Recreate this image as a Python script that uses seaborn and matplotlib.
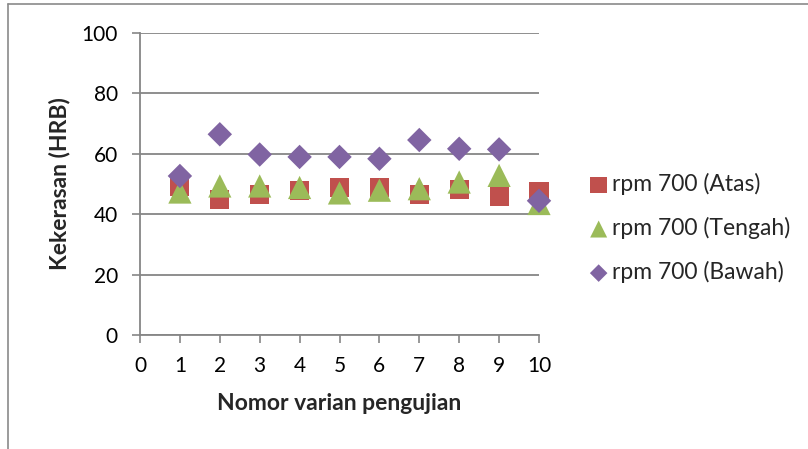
import matplotlib
matplotlib.use("Agg")
import matplotlib.pyplot as plt
from matplotlib.lines import Line2D
import seaborn as sns
import pandas as pd

# Hardness readings per test variant, 700 rpm, three measuring positions
varian = [1, 2, 3, 4, 5, 6, 7, 8, 9, 10]
atas = [49.0, 44.8, 46.4, 47.9, 48.7, 48.9, 46.4, 48.2, 46.0, 47.5]
tengah = [47.3, 49.3, 49.3, 48.8, 47.0, 47.9, 48.4, 50.6, 52.8, 43.5]
bawah = [52.6, 66.4, 59.7, 58.9, 58.9, 58.3, 64.5, 61.6, 61.4, 44.4]

series_names = ["rpm 700 (Atas)", "rpm 700 (Tengah)", "rpm 700 (Bawah)"]
series_values = [atas, tengah, bawah]
colors = ["#C0504D", "#9BBB59", "#8064A2"]
markers = ["s", "^", "D"]
sizes = [190, 280, 155]
legend_sizes = [140, 150, 80]

x_ticks = [0, 1, 2, 3, 4, 5, 6, 7, 8, 9, 10]
y_ticks = [0, 20, 40, 60, 80, 100]

sns.set_theme(style="white")
plt.rcParams["font.family"] = ["Lato", "DejaVu Sans"]

fig = plt.figure(figsize=(8.08, 4.49), dpi=100)
ax = fig.add_axes([140 / 808, 1 - 335 / 449, 399 / 808, (335 - 32.7) / 449])

grid_c = "#868686"
for name, vals, c, m, s in zip(series_names, series_values, colors, markers, sizes):
    df = pd.DataFrame({"varian": varian, "nilai": vals})
    sns.scatterplot(data=df, x="varian", y="nilai", ax=ax, color=c, marker=m,
                    s=s, edgecolor="none", linewidth=0, label=name, zorder=3,
                    clip_on=False)

ax.set_xlim(0, 10)
ax.set_ylim(0, 100)
ax.set_xticks(x_ticks)
ax.set_yticks(y_ticks)
ax.tick_params(axis="both", labelsize=15, colors=grid_c, labelcolor="black",
               length=6, width=1.2, direction="out", left=True, bottom=True)
ax.tick_params(axis="x", pad=9)
ax.tick_params(axis="y", pad=10)

ax.yaxis.grid(True, color=grid_c, linewidth=1.3)
ax.xaxis.grid(False)
ax.set_axisbelow(True)
for side in ["top", "right"]:
    ax.spines[side].set_visible(False)
for side in ["left", "bottom"]:
    ax.spines[side].set_color(grid_c)
    ax.spines[side].set_linewidth(1.3)

ax.set_xlabel("Nomor varian pengujian", fontsize=16.5, fontweight="bold", labelpad=12)
ax.set_ylabel("Kekerasan (HRB)", fontsize=16.5, fontweight="bold", labelpad=8)

leg = ax.legend(loc="center left", bbox_to_anchor=(0.128, 0.354),
                bbox_transform=ax.transAxes, frameon=False,
                fontsize=16.5, handlelength=0.75, handletextpad=0.22,
                labelspacing=0.96, borderaxespad=0, borderpad=0)
leg.set_bbox_to_anchor((1.128, 0.354), transform=ax.transAxes)
for h, s in zip(leg.legend_handles, legend_sizes):
    h.set_sizes([s])

# outer chart frame
fig.add_artist(Line2D([8 / 808, 8 / 808], [0, 1 - 4 / 449], transform=fig.transFigure,
                      color="#8a8a8a", linewidth=1.2))
fig.add_artist(Line2D([8 / 808, 1], [1 - 4 / 449, 1 - 4 / 449], transform=fig.transFigure,
                      color="#8a8a8a", linewidth=1.2))

fig.savefig("out.png", dpi=100)
